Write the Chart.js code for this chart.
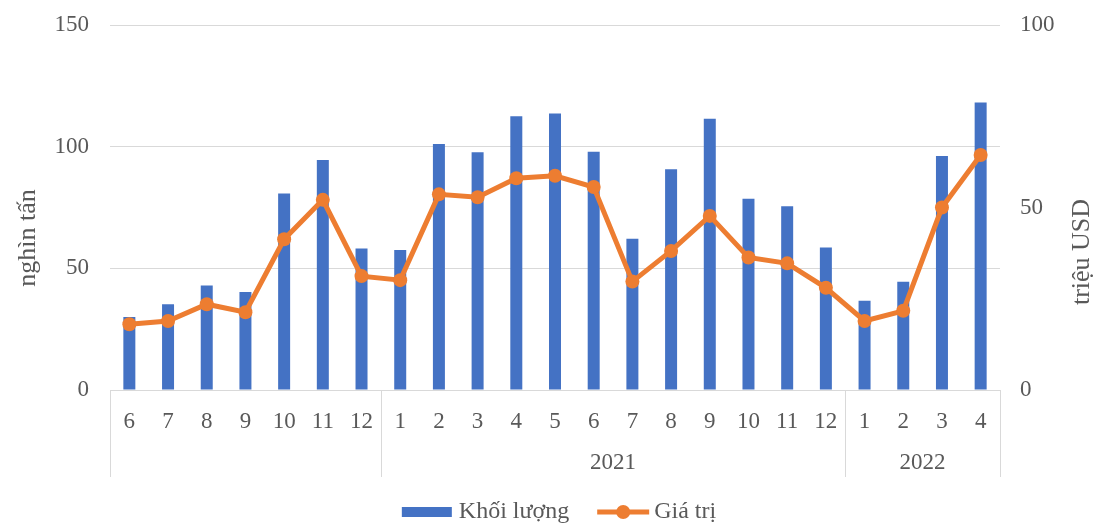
<!DOCTYPE html>
<html>
<head>
<meta charset="utf-8">
<script src="https://cdn.jsdelivr.net/npm/chart.js@4.4.0/dist/chart.umd.min.js"></script>
<style>
  html, body { margin: 0; padding: 0; background: #fff; }
  #wrap { width: 1095px; height: 525px; }
</style>
</head>
<body>
<div id="wrap"><canvas id="c" width="1095" height="525"></canvas></div>
<script>
const months = ['6','7','8','9','10','11','12','1','2','3','4','5','6','7','8','9','10','11','12','1','2','3','4'];
const yearOfMonth = ['','','','','','','','2021','2021','2021','2021','2021','2021','2021','2021','2021','2021','2021','2021','2022','2022','2022','2022'];
const volume = [30, 35.2, 42.9, 40.3, 80.8, 94.5, 58.2, 57.5, 101.1, 97.7, 112.5, 113.6, 97.9, 62.2, 90.7, 111.5, 78.6, 75.5, 58.6, 36.7, 44.5, 96.2, 118.2];
const value = [18.0, 18.9, 23.5, 21.3, 41.3, 52.1, 31.2, 30.1, 53.6, 52.8, 58.0, 58.7, 55.6, 29.7, 38.1, 47.7, 36.3, 34.7, 28.0, 18.9, 21.7, 50.0, 64.4];
const leftTitle = 'nghìn tấn';
const rightTitle = 'triệu USD';
const seriesNames = ['Khối lượng', 'Giá trị'];

const FONT = "'Liberation Serif', 'Times New Roman', serif";
const BLUE = '#4472C4';
const ORANGE = '#ED7D31';
const GRID = '#D9D9D9';
const TEXT = '#595959';

const groupPlugin = {
  id: 'groups',
  afterDraw(chart) {
    const { ctx, chartArea, scales } = chart;
    const x = scales.x;
    const step = x.getPixelForValue(1) - x.getPixelForValue(0);
    const bottom = chartArea.bottom;
    const groups = [];
    yearOfMonth.forEach((y, i) => {
      if (!groups.length || groups[groups.length - 1].label !== y) groups.push({ label: y, start: i, end: i });
      else groups[groups.length - 1].end = i;
    });
    ctx.save();
    ctx.strokeStyle = GRID; ctx.lineWidth = 1;
    const bounds = [0];
    groups.forEach(g => bounds.push(g.end + 1));
    bounds.forEach(b => {
      const px = Math.round(x.getPixelForValue(b) - step / 2) + 0.5;
      ctx.beginPath(); ctx.moveTo(px, bottom); ctx.lineTo(px, bottom + 87); ctx.stroke();
    });
    ctx.fillStyle = TEXT;
    ctx.font = '23px ' + FONT;
    ctx.textAlign = 'center'; ctx.textBaseline = 'middle';
    groups.forEach(g => {
      if (!g.label) return;
      const cx = (x.getPixelForValue(g.start) + x.getPixelForValue(g.end)) / 2;
      ctx.fillText(g.label, cx, bottom + 73);
    });
    // axis titles
    ctx.font = '26px ' + FONT;
    ctx.save(); ctx.translate(28, 238); ctx.rotate(-Math.PI / 2); ctx.fillText(leftTitle, 0, 0); ctx.restore();
    ctx.save(); ctx.translate(1082, 252); ctx.rotate(-Math.PI / 2); ctx.fillText(rightTitle, 0, 0); ctx.restore();

    // legend
    ctx.font = '24px ' + FONT;
    ctx.textAlign = 'left';
    const w1 = ctx.measureText(seriesNames[0]).width;
    const w2 = ctx.measureText(seriesNames[1]).width;
    const total = 50 + 7 + w1 + 28 + 52 + 5 + w2;
    let lx = 559 - total / 2;
    const ly = 512;
    ctx.fillStyle = BLUE;
    ctx.fillRect(lx, ly - 5, 50, 10);
    lx += 57;
    ctx.fillStyle = TEXT;
    ctx.fillText(seriesNames[0], lx, ly);
    lx += w1 + 28;
    ctx.strokeStyle = ORANGE; ctx.lineWidth = 5;
    ctx.beginPath(); ctx.moveTo(lx, ly); ctx.lineTo(lx + 52, ly); ctx.stroke();
    ctx.fillStyle = ORANGE;
    ctx.beginPath(); ctx.arc(lx + 26, ly, 7, 0, Math.PI * 2); ctx.fill();
    lx += 57;
    ctx.fillStyle = TEXT;
    ctx.fillText(seriesNames[1], lx, ly);
    ctx.restore();
  }
};

new Chart(document.getElementById('c'), {
  type: 'bar',
  data: {
    labels: months,
    datasets: [
      { type: 'bar', label: seriesNames[0], data: volume, backgroundColor: BLUE, yAxisID: 'y', order: 2,
        barPercentage: 0.31, categoryPercentage: 1.0 },
      { type: 'line', label: seriesNames[1], data: value, borderColor: ORANGE, backgroundColor: ORANGE,
        borderWidth: 5, pointRadius: 7, pointBackgroundColor: ORANGE, pointBorderWidth: 0,
        yAxisID: 'y1', order: 1, tension: 0 }
    ]
  },
  options: {
    responsive: false,
    animation: false,
    layout: { padding: { top: 25, left: 0, right: 0, bottom: 48 } },
    plugins: {
      tooltip: { enabled: false },
      legend: { display: false }
    },
    scales: {
      x: {
        grid: { display: false, drawTicks: false },
        border: { display: true, color: GRID, width: 1 },
        ticks: { color: TEXT, font: { family: FONT, size: 23 }, padding: 18, maxRotation: 0, autoSkip: false },
        afterFit: s => { s.height = 87; }
      },
      y: {
        position: 'left', min: 0, max: 150,
        ticks: { stepSize: 50, color: TEXT, font: { family: FONT, size: 23 }, padding: 21 },
        grid: { color: GRID, lineWidth: 1, drawTicks: false },
        border: { display: false },
        afterFit: s => { s.width = 110; s.paddingTop = 0; s.paddingBottom = 0; }
      },
      y1: {
        position: 'right', min: 0, max: 100,
        ticks: { stepSize: 50, color: TEXT, font: { family: FONT, size: 23 }, padding: 20 },
        grid: { display: false, drawTicks: false },
        border: { display: false },
        afterFit: s => { s.width = 95; s.paddingTop = 0; s.paddingBottom = 0; }
      }
    }
  },
  plugins: [groupPlugin]
});
</script>
</body>
</html>
